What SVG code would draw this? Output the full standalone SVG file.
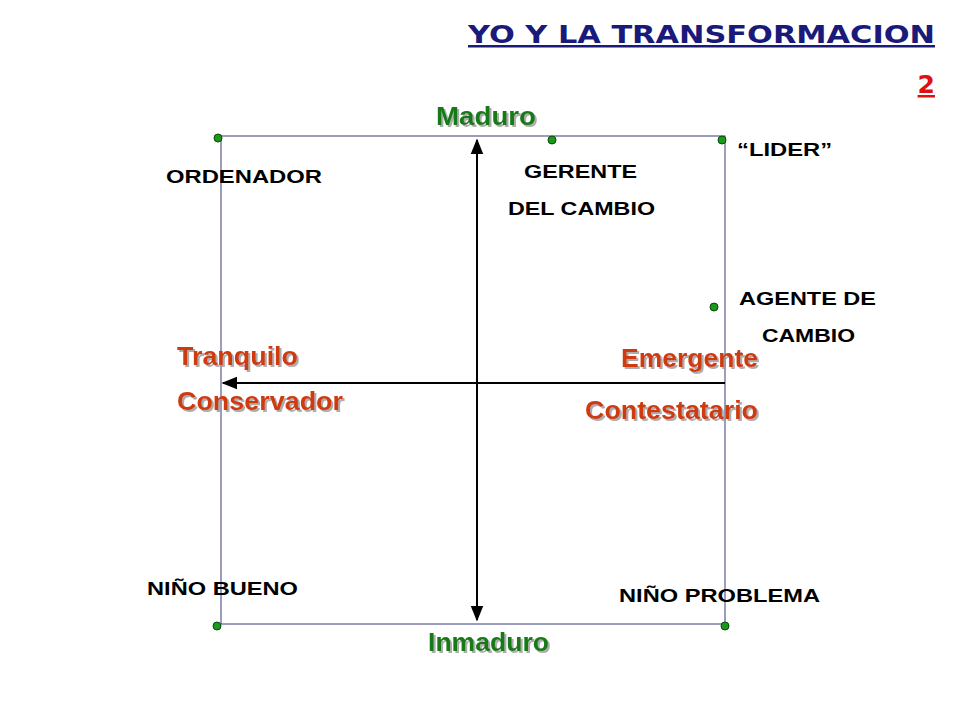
<svg xmlns="http://www.w3.org/2000/svg" width="960" height="720" viewBox="0 0 960 720">
<defs>
<marker id="ah" viewBox="0 0 10 10" refX="9" refY="5" markerWidth="8" markerHeight="8" orient="auto-start-reverse"><path d="M0,1 L10,5 L0,9 z" fill="#000"/></marker>
<filter id="sh" x="-10%" y="-10%" width="130%" height="140%"><feDropShadow dx="2" dy="2" stdDeviation="0.6" flood-color="#999" flood-opacity="0.8"/></filter>
</defs>
<style>
.box{fill:none;stroke:#3a3a7a;stroke-width:1}
.ax{stroke:#000;stroke-width:2;fill:none}
.dot{fill:#1a9a1a;stroke:#0a4a0a;stroke-width:1}
.lb{font-family:"Liberation Sans",Arial,sans-serif;font-weight:bold;font-size:18px;fill:#000}
.gr{font-family:"Liberation Sans",Arial,sans-serif;font-weight:bold;font-size:25px;fill:#167a16;filter:url(#sh)}
.rd{font-family:"Liberation Sans",Arial,sans-serif;font-weight:bold;font-size:25px;fill:#d03a10;filter:url(#sh)}
.tt{font-family:"DejaVu Sans",sans-serif;font-weight:bold;font-size:25px;text-decoration:underline}
</style>
<text class="tt" x="468" y="43" textLength="467" lengthAdjust="spacingAndGlyphs" fill="#1a1a7a">YO Y LA TRANSFORMACION</text>
<text class="tt" x="935" y="93" text-anchor="end" fill="#e01010">2</text>
<g id="box"><rect class="box" x="221" y="136" width="504" height="488"/></g>
<g id="connectors">
<line class="ax" x1="477" y1="620" x2="477" y2="140" marker-end="url(#ah)" marker-start="url(#ah)"/>
<line class="ax" x1="725" y1="383" x2="223" y2="383" marker-end="url(#ah)"/>
</g>
<g id="dots">
<circle class="dot" cx="218" cy="138" r="4"/><circle class="dot" cx="552" cy="140" r="4"/><circle class="dot" cx="722" cy="140" r="4"/>
<circle class="dot" cx="714" cy="307" r="4"/><circle class="dot" cx="217" cy="626" r="4"/><circle class="dot" cx="725" cy="626" r="4"/>
</g>
<g id="n-maduro"><text class="gr" x="436" y="125" textLength="100" lengthAdjust="spacingAndGlyphs">Maduro</text></g>
<g id="n-inmaduro"><text class="gr" x="428" y="651" textLength="121" lengthAdjust="spacingAndGlyphs">Inmaduro</text></g>
<g id="n-tranq"><text class="rd" x="177" y="365" textLength="121" lengthAdjust="spacingAndGlyphs">Tranquilo</text><text class="rd" x="177" y="410" textLength="166" lengthAdjust="spacingAndGlyphs">Conservador</text></g>
<g id="n-emerg"><text class="rd" x="621" y="367" textLength="137" lengthAdjust="spacingAndGlyphs">Emergente</text><text class="rd" x="585" y="419" textLength="173" lengthAdjust="spacingAndGlyphs">Contestatario</text></g>
<g id="n-ord"><text class="lb" x="166" y="183" textLength="156" lengthAdjust="spacingAndGlyphs">ORDENADOR</text></g>
<g id="n-ger"><text class="lb" x="524" y="178" textLength="113" lengthAdjust="spacingAndGlyphs">GERENTE</text><text class="lb" x="508" y="215" textLength="147" lengthAdjust="spacingAndGlyphs">DEL CAMBIO</text></g>
<g id="n-lider"><text class="lb" x="737" y="156" textLength="95" lengthAdjust="spacingAndGlyphs">“LIDER”</text></g>
<g id="n-agente"><text class="lb" x="739" y="305" textLength="137" lengthAdjust="spacingAndGlyphs">AGENTE DE</text><text class="lb" x="762" y="342" textLength="93" lengthAdjust="spacingAndGlyphs">CAMBIO</text></g>
<g id="n-nb"><text class="lb" x="147" y="595" textLength="151" lengthAdjust="spacingAndGlyphs">NIÑO BUENO</text></g>
<g id="n-np"><text class="lb" x="619" y="602" textLength="201" lengthAdjust="spacingAndGlyphs">NIÑO PROBLEMA</text></g>
</svg>
